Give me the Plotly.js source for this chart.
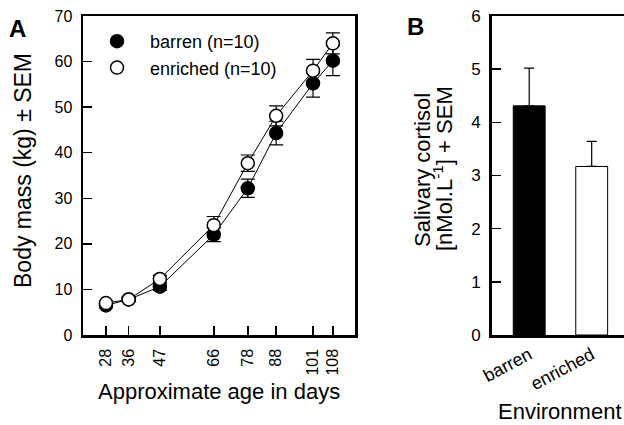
<!DOCTYPE html>
<html>
<head>
<meta charset="utf-8">
<script src="https://cdn.plot.ly/plotly-3.0.1.min.js"></script>
<style>html,body{margin:0;padding:0;background:#fff;}#chart{width:624px;height:425px;}</style>
</head>
<body>
<div id="chart"></div>
<script>
// Panel A data
const ageDays = [28, 36, 47, 66, 78, 88, 101, 108];
const ageLabels = ["28", "36", "47", "66", "78", "88", "101", "108"];
const barrenMass = [6.5, 7.8, 10.6, 22.0, 32.2, 44.3, 55.2, 60.2];
const barrenSEM = [0.5, 0.5, 0.8, 1.5, 2.0, 2.6, 3.0, 3.3];
const enrichedMass = [7.0, 7.8, 12.3, 24.1, 37.7, 48.1, 58.0, 64.0];
const enrichedSEM = [0.5, 0.5, 0.8, 1.9, 1.8, 2.2, 2.5, 2.3];
const seriesNames = ["barren (n=10)", "enriched (n=10)"];

// Panel B data
const environments = ["barren", "enriched"];
const cortisol = [4.31, 3.17];
const cortisolSEM = [0.71, 0.47];

const FONT = "Liberation Sans, Arial, sans-serif";
const W = 624, H = 425;
const px = v => v / W;
const py = v => (H - v) / H;

const traces = [
  {x: ageDays, y: barrenMass, mode: "lines", line: {color: "black", width: 1}, showlegend: false, hoverinfo: "skip", xaxis: "x", yaxis: "y"},
  {x: ageDays, y: enrichedMass, mode: "lines", line: {color: "black", width: 1}, showlegend: false, hoverinfo: "skip", xaxis: "x", yaxis: "y"},
  {x: ageDays, y: barrenMass, name: seriesNames[0], mode: "markers",
   marker: {size: 13, color: "black", line: {color: "black", width: 1.5}},
   error_y: {type: "data", array: barrenSEM, visible: true, color: "black", thickness: 1.2, width: 7},
   xaxis: "x", yaxis: "y"},
  {x: ageDays, y: enrichedMass, name: seriesNames[1], mode: "markers",
   marker: {size: 13, color: "white", line: {color: "black", width: 1.5}},
   error_y: {type: "data", array: enrichedSEM, visible: true, color: "black", thickness: 1.2, width: 7},
   xaxis: "x", yaxis: "y"},
  {type: "bar", x: environments, y: cortisol, width: 0.51, showlegend: false,
   marker: {color: ["black", "white"], line: {color: "black", width: 1}},
   error_y: {type: "data", symmetric: false, array: cortisolSEM, arrayminus: [0, 0], visible: true, color: "black", thickness: 1.2, width: 5},
   xaxis: "x2", yaxis: "y2"}
];

const yDom = [py(335), py(16)];
const layout = {
  width: W, height: H,
  margin: {l: 0, r: 0, t: 0, b: 0},
  paper_bgcolor: "white", plot_bgcolor: "white",
  font: {family: FONT, color: "black", size: 16},
  showlegend: true,
  legend: {x: px(84), y: py(23), xanchor: "left", yanchor: "top", itemwidth: 56, bgcolor: "rgba(0,0,0,0)", font: {size: 18, family: FONT}, tracegroupgap: 0},
  xaxis: {domain: [px(83), px(355)], range: [19.9, 115.8], tickmode: "array", tickvals: ageDays, ticktext: ageLabels,
          ticks: "inside", ticklen: 9, tickwidth: 1.5, tickcolor: "black", tickangle: -90, ticklabelstandoff: 5,
          showline: true, linewidth: 2.5, linecolor: "black", mirror: true, showgrid: false, zeroline: false,
          tickfont: {size: 16, family: FONT}, anchor: "y", fixedrange: true},
  yaxis: {domain: yDom, range: [0, 70], dtick: 10, ticks: "inside", ticklen: 9, tickwidth: 1.5, tickcolor: "black", ticklabelstandoff: 5,
          showline: true, linewidth: 2.5, linecolor: "black", mirror: true, showgrid: false, zeroline: false,
          tickfont: {size: 16, family: FONT}, anchor: "x", fixedrange: true},
  xaxis2: {domain: [px(491.7), 1], range: [-0.6, 1.517], type: "category", ticks: "", tickangle: -28,
           showline: true, linewidth: 2.5, linecolor: "black", mirror: true, showgrid: false, zeroline: false,
           tickfont: {size: 18, family: FONT}, anchor: "y2", fixedrange: true},
  yaxis2: {domain: yDom, range: [0, 6], dtick: 1, ticks: "inside", ticklen: 9, tickwidth: 1.5, tickcolor: "black", ticklabelstandoff: 5,
           showline: true, linewidth: 2.5, linecolor: "black", mirror: false, showgrid: false, zeroline: false,
           tickfont: {size: 17, family: FONT}, anchor: "x2", fixedrange: true},
  annotations: [
    {text: "<b>A</b>", x: px(17.5), y: py(28), xref: "paper", yref: "paper", showarrow: false, font: {size: 24, family: FONT}, xanchor: "center", yanchor: "middle"},
    {text: "<b>B</b>", x: px(415), y: py(27), xref: "paper", yref: "paper", showarrow: false, font: {size: 24, family: FONT}, xanchor: "center", yanchor: "middle"},
    {text: "Body mass (kg) ± SEM", x: px(23), y: py(171), xref: "paper", yref: "paper", showarrow: false, textangle: -90, font: {size: 23, family: FONT}, xanchor: "center", yanchor: "middle"},
    {text: "Approximate age in days", x: px(219), y: py(391), xref: "paper", yref: "paper", showarrow: false, font: {size: 22, family: FONT}, xanchor: "center", yanchor: "middle"},
    {text: "Salivary cortisol", x: px(422), y: py(170), xref: "paper", yref: "paper", showarrow: false, textangle: -90, font: {size: 22, family: FONT}, xanchor: "center", yanchor: "middle"},
    {text: "[nMol.L<sup>-1</sup>] + SEM", x: px(443), y: py(169), xref: "paper", yref: "paper", showarrow: false, textangle: -90, font: {size: 22, family: FONT}, xanchor: "center", yanchor: "middle"},
    {text: "Environment", x: px(560), y: py(411), xref: "paper", yref: "paper", showarrow: false, font: {size: 22, family: FONT}, xanchor: "center", yanchor: "middle"}
  ]
};

Plotly.newPlot("chart", traces, layout, {displayModeBar: false, staticPlot: true});
</script>
</body>
</html>
